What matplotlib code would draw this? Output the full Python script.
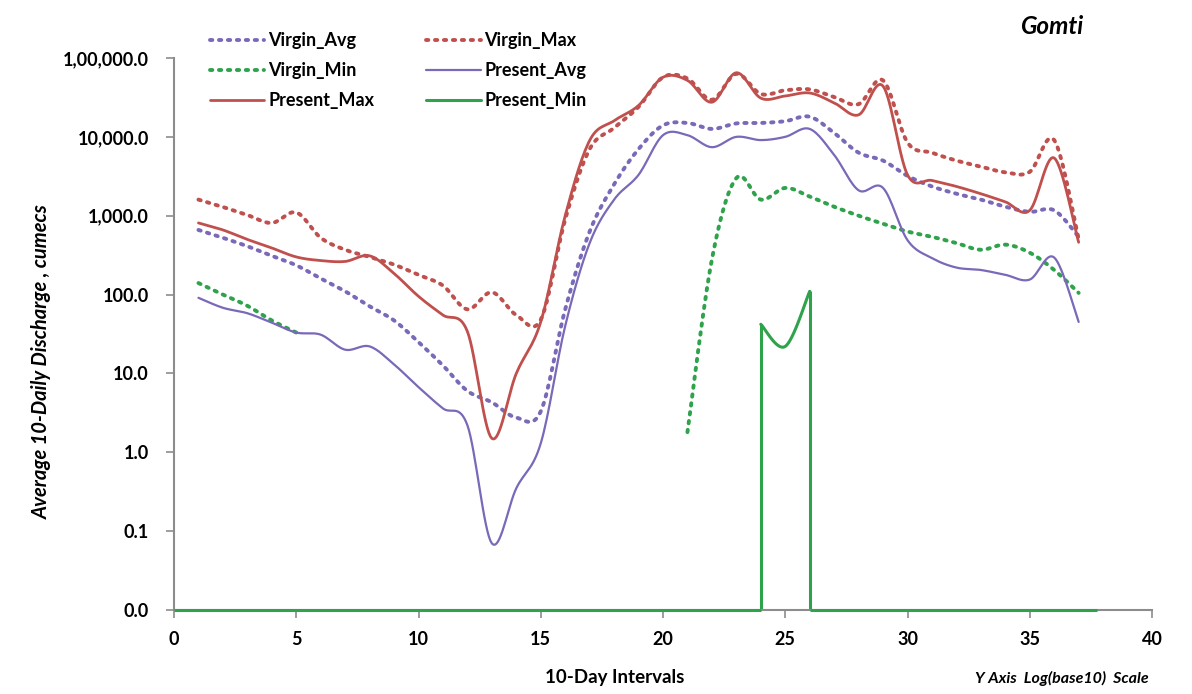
import numpy as np
import matplotlib.pyplot as plt

# 10-day intervals of the year
intervals = list(range(1, 38))

# discharge values (cumecs), nan = no data
virgin_avg = [660, 525, 410, 310, 235, 160, 110, 71, 47, 25, 12.6, 6.0, 4.3, 2.75, 3.3,
              65, 630, 2500, 7000, 14000, 15000, 12600, 14800, 15000, 15800, 18000, 11200,
              6300, 5000, 3200, 2350, 1900, 1600, 1300, 1120, 1170, 540]
virgin_max = [1600, 1290, 1020, 810, 1100, 525, 370, 300, 240, 178, 130, 65, 107, 55, 48,
              900, 7000, 13000, 24000, 57000, 55000, 29500, 63000, 35000, 39000, 40000, 32000,
              26000, 52000, 8500, 6300, 5000, 4200, 3550, 3600, 9100, 500]
virgin_min = [140, 100, 72, 47, 33] + [np.nan] * 15 + \
             [1.8, 280, 3000, 1600, 2250, 1750, 1300, 1000, 790, 630, 540, 450, 370, 430,
              340, 205, 105]
present_avg = [91, 68, 58, 44, 33, 31, 20, 22, 13, 6.7, 3.6, 2.2, 0.07, 0.35, 1.3, 40, 450,
               1600, 3300, 10500, 10500, 7400, 10000, 9100, 10000, 12600, 5900, 2100, 2250,
               490, 290, 220, 205, 178, 155, 295, 45]
present_max = [810, 660, 500, 390, 300, 270, 263, 310, 185, 95, 55, 34, 1.5, 10, 45, 1000,
               9000, 16000, 25000, 57000, 52000, 27500, 65000, 31000, 33000, 36000, 27000,
               19000, 44000, 3300, 2800, 2350, 1900, 1500, 1170, 5400, 460]
present_min = [0] * 23 + [42, 22, 110] + [0] * 11

yticks = [0.01, 0.1, 1, 10, 100, 1000, 10000, 100000]
ytick_labels = ['0.0', '0.1', '1.0', '10.0', '100.0', '1,000.0', '10,000.0', '1,00,000.0']

RED = '#C0504D'
PURPLE = '#7A68B8'
GREEN = '#2FA24C'
FONT = 'Lato'


def smooth(x, y, n=16):
    """Excel-like smoothed line (Catmull-Rom / Bezier) computed in log space."""
    x = np.asarray(x, float)
    ly = np.log10(np.asarray(y, float))
    if len(x) < 2:
        return x, 10 ** ly
    pts = np.column_stack([x, ly])
    pts = np.vstack([pts[0], pts, pts[-1]])
    t = np.linspace(0, 1, n, endpoint=False)[:, None]
    out = []
    for i in range(1, len(pts) - 2):
        p0, p1, p2, p3 = pts[i - 1], pts[i], pts[i + 1], pts[i + 2]
        c1 = p1 + (p2 - p0) / 6
        c2 = p2 - (p3 - p1) / 6
        seg = ((1 - t) ** 3) * p1 + 3 * ((1 - t) ** 2) * t * c1 \
            + 3 * (1 - t) * t ** 2 * c2 + t ** 3 * p2
        out.append(seg)
    out.append(pts[-2][None, :])
    out = np.vstack(out)
    return out[:, 0], 10 ** out[:, 1]


def runs(x, y):
    """Split a series into runs of positive values."""
    x = np.asarray(x, float)
    y = np.asarray(y, float)
    ok = np.isfinite(y) & (y > 0)
    res, cur = [], []
    for i in range(len(x)):
        if ok[i]:
            cur.append(i)
        elif cur:
            res.append(cur)
            cur = []
    if cur:
        res.append(cur)
    return [(x[r], y[r]) for r in res]


fig = plt.figure(figsize=(11.92, 6.94), dpi=100)
ax = fig.add_axes([174 / 1192, 1 - 610 / 694, 978 / 1192, 552 / 694])
ax.set_yscale('log')

dot = (0, (0.6, 1.7))
series = [
    ('Virgin_Avg', virgin_avg, PURPLE, dot, 2.8),
    ('Virgin_Min', virgin_min, GREEN, dot, 2.8),
    ('Present_Max', present_max, RED, '-', 2.0),
    ('Virgin_Max', virgin_max, RED, dot, 2.8),
    ('Present_Avg', present_avg, PURPLE, '-', 1.6),
    ('Present_Min', present_min, GREEN, '-', 2.2),
]

handles = []
nz = None
for name, vals, col, ls, lw in series:
    first = None
    for rx, ry in runs(intervals, vals):
        sx, sy = smooth(rx, ry)
        ln, = ax.plot(sx, sy, color=col, ls=ls, lw=lw, dash_capstyle='round',
                      solid_capstyle='round', label=name if first is None else None)
        if first is None:
            first = ln
        if name == 'Present_Min':
            # zero values sit on the axis floor: drop down to it at each end
            ax.vlines([rx[0], rx[-1]], yticks[0], [ry[0], ry[-1]], color=col, lw=lw)
            nz = (rx[0], rx[-1])
    handles.append(first)

# zero Present_Min values drawn along the floor
ax.hlines([yticks[0], yticks[0]], [0, nz[1]], [nz[0], intervals[-1] + 0.75], color=GREEN,
          lw=2.2, clip_on=False, zorder=3)

ax.set_xlim(0, 40)
ax.set_ylim(yticks[0], yticks[-1])
ax.set_xticks(range(0, 41, 5))
ax.set_yticks(yticks, ytick_labels)
ax.minorticks_off()
for s in ['top', 'right']:
    ax.spines[s].set_visible(False)
for s in ['left', 'bottom']:
    ax.spines[s].set_color('#8c8c8c')
    ax.spines[s].set_linewidth(1.5)
ax.tick_params(colors='#8c8c8c', length=6, width=1.2, labelcolor='black', labelsize=13)
ax.tick_params(axis='y', pad=12)
ax.tick_params(axis='x', pad=9)
for lab in ax.get_xticklabels() + ax.get_yticklabels():
    lab.set_fontweight('bold')
    lab.set_family(FONT)

fig.legend(handles=handles, loc='upper left', bbox_to_anchor=(194 / 1192, 1 - 16 / 694),
           ncol=2, frameon=False, handlelength=3.0, handletextpad=0.2, columnspacing=2.9,
           labelspacing=0.72, prop={'family': FONT, 'weight': 'bold', 'size': 13})

fig.text(1052 / 1192, 1 - 27 / 694, 'Gomti', ha='center', va='center', family=FONT,
         fontsize=17.5, fontweight='bold', fontstyle='italic')
fig.text(615 / 1192, 1 - 678 / 694, '10-Day Intervals', ha='center', va='center',
         family=FONT, fontsize=13.5, fontweight='bold')
fig.text(1062 / 1192, 1 - 678 / 694, 'Y Axis  Log(base10)  Scale', ha='center',
         va='center', family=FONT, fontsize=11.5, fontweight='bold', fontstyle='italic')
fig.text(42 / 1192, 1 - 362 / 694, 'Average 10-Daily Discharge , cumecs', ha='center',
         va='center', rotation=90, family=FONT, fontsize=14.5, fontweight='bold',
         fontstyle='italic')

fig.savefig('out.png', dpi=100)
